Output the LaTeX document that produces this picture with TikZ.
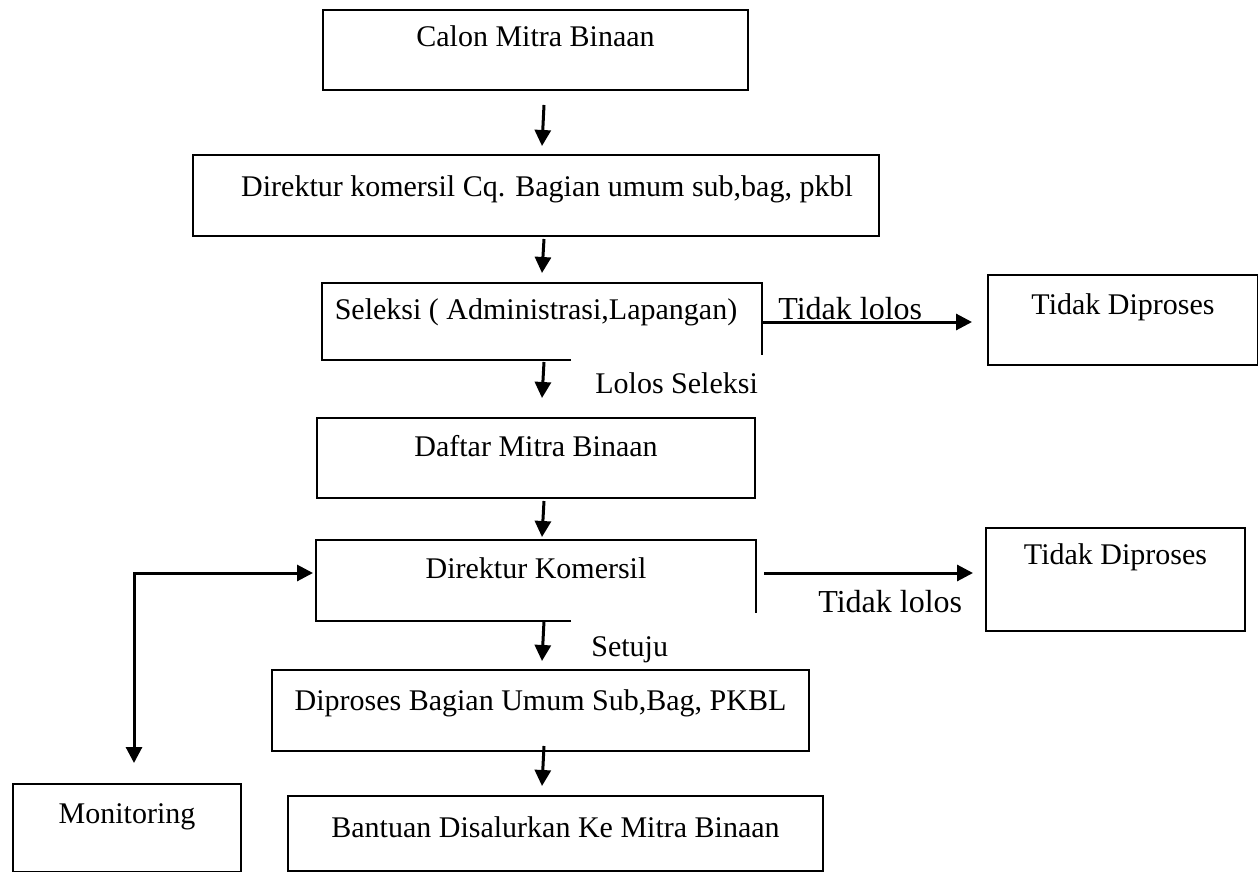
\documentclass[tikz,border=0pt]{standalone}
\usepackage{fontspec}
\setmainfont{Liberation Serif}
\usetikzlibrary{arrows.meta,calc}
\begin{document}
\begin{tikzpicture}[x=0.5pt,y=-0.5pt,
  box/.style={draw, line width=1pt, inner xsep=0pt, inner ysep=0pt, anchor=north west,
    font=\fontsize{15}{18}\selectfont},
  openbox/.style={box, draw=none},
  lbl/.style={inner sep=0pt, anchor=base west, font=\fontsize{15}{18}\selectfont},
  biglbl/.style={lbl, font=\fontsize{16}{19}\selectfont},
  arr/.style={line width=1.5pt, -{Triangle[length=8pt,width=8pt]}},
  arrboth/.style={line width=1.5pt, {Triangle[length=8pt,width=8pt]}-{Triangle[length=8pt,width=8pt]}},
  edge/.style={line width=1pt}]
\useasboundingbox (0,0) rectangle (1258,872);

% boxes
\node[box, minimum width=212.5pt, text height=18.5pt, text depth=21.5pt] (calon) at (322,9) {Calon Mitra Binaan};
\node[box, minimum width=343pt, text height=20.5pt, text depth=20pt] (cq) at (192,154) {\hspace*{11pt}Direktur komersil Cq. Bagian umum sub,bag, pkbl};
\node[openbox, minimum width=219pt, text height=17.5pt, text depth=20pt] (sel) at (322,283) {Seleksi ( Administrasi,Lapangan)\hspace*{6pt}};
\node[box, minimum width=135pt, text height=19.5pt, text depth=25.5pt] (td1) at (987,274) {Tidak Diproses};
\node[box, minimum width=219pt, text height=19pt, text depth=21pt] (daftar) at (316,417) {Daftar Mitra Binaan};
\node[openbox, minimum width=219pt, text height=18.5pt, text depth=21pt] (dk) at (316,540) {Direktur Komersil};
\node[box, minimum width=129.5pt, text height=18pt, text depth=33.5pt] (td2) at (985,527) {Tidak Diproses};
\node[box, minimum width=268.5pt, text height=20pt, text depth=20.5pt] (dip) at (271,669) {Diproses Bagian Umum Sub,Bag, PKBL};
\node[box, minimum width=267.5pt, text height=20.5pt, text depth=17pt] (bant) at (287,795) {Bantuan Disalurkan Ke Mitra Binaan};
\node[box, minimum width=114pt, text height=19.5pt, text depth=24.5pt] (mon) at (12,783) {Monitoring};

% open box borders
\draw[edge] ($(sel.south west)+(249,0)$) -- (sel.south west) -- (sel.north west) -- (sel.north east) -- ($(sel.north east)+(0,72)$);
\draw[edge] ($(dk.south west)+(255,0)$) -- (dk.south west) -- (dk.north west) -- (dk.north east) -- ($(dk.north east)+(0,73)$);

% labels
\node[biglbl] (tl1) at (778,319) {Tidak lolos};
\node[lbl] (lolos) at (595,393) {Lolos Seleksi};
\node[biglbl] (tl2) at (818,612) {Tidak lolos};
\node[lbl] (setuju) at (591,656) {Setuju};

% vertical arrows
\draw[arr] ($(calon.south)+(8.5,14)$) -- ($(cq.north)+(6,-8)$);
\draw[arr] ($(cq.south)+(8,2)$) -- ($(sel.north)+(0,-10)$);
\draw[arr] ($(sel.south)+(2,2)$) -- ($(daftar.north)+(6,-19)$);
\draw[arr] ($(daftar.south)+(8,2)$) -- ($(dk.north)+(6,-3)$);
\draw[arr] ($(dk.south)+(8,0)$) -- ($(dip.north)+(1.5,-8)$);
\draw[arr] ($(dip.south)+(3.5,-6)$) -- ($(bant.north)+(-13.5,-9)$);

% horizontal arrows
\draw[arr] ($(sel.east)+(0,0.5)$) -- ($(td1.west)+(-15,2)$);
\draw[arr] ($(dk.east)+(8,-7.5)$) -- ($(td2.west)+(-12,-6.5)$);

% monitoring loop
\draw[arrboth] ($(dk.west)+(-3,-7.5)$) -| ($(mon.north)+(7,-20)$);
\end{tikzpicture}
\end{document}
